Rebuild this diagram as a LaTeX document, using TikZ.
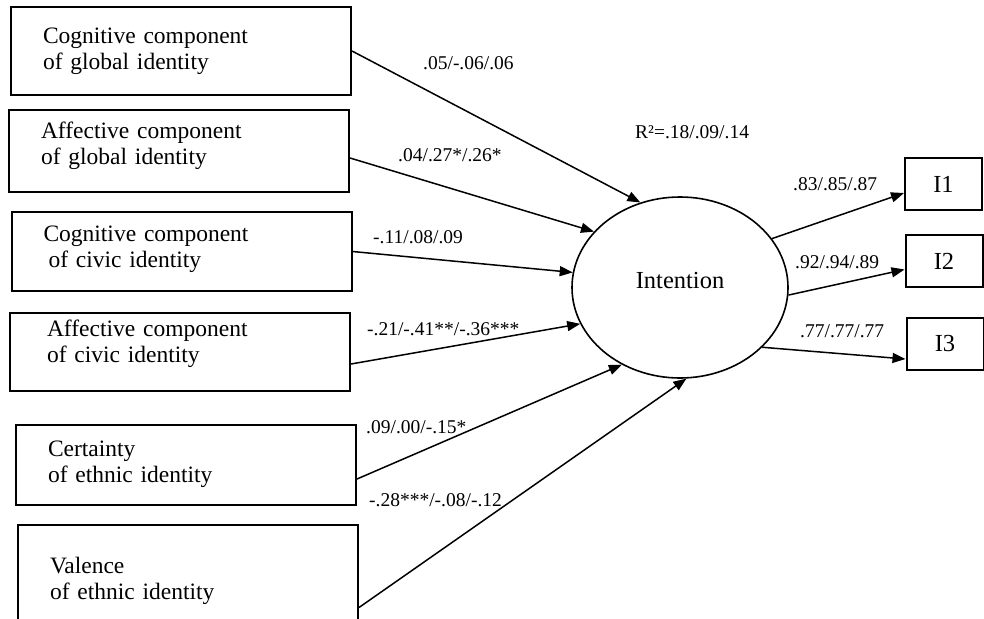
\documentclass[tikz,border=0pt]{standalone}
\usepackage{fontspec}
\setmainfont{Liberation Serif}
\usetikzlibrary{shapes.geometric,arrows.meta,positioning}

\begin{document}
\begin{tikzpicture}[
    x=1pt, y=-1pt,
    box/.style={rectangle, draw, line width=2pt, minimum width=340pt, text width=276pt, inner xsep=32pt, inner ysep=0pt, align=left, font=\fontsize{23.5}{26}\selectfont},
    ind/.style={rectangle, draw, line width=2pt, minimum width=77pt, minimum height=52pt, inner sep=0pt, font=\fontsize{24.5}{28}\selectfont},
    lat/.style={ellipse, draw, line width=1.6pt, minimum width=216pt, minimum height=181pt, inner sep=0pt, text depth=14pt, font=\fontsize{24.5}{28}\selectfont},
    coef/.style={anchor=base west, inner sep=0pt, font=\fontsize{19.5}{22}\selectfont},
    arrow/.style={-{Triangle[length=13pt,width=10pt]}, line width=1.5pt}
]
    \useasboundingbox (0,0) rectangle (984,618);

    % predictors
    \node[box, minimum height=88pt, text depth=30pt] (cg) at (181,51) {Cognitive component\\of global identity};
    \node[box, minimum height=82pt, text depth=42pt] (ag) at (179,151) {Affective component\\of global identity};
    \node[box, minimum height=79pt, text depth=35pt] (cc) at (181.5,251.5) {Cognitive component\\\hspace*{5pt}of civic identity};
    \node[box, minimum height=78pt, text depth=48pt] (ac) at (180,352) {\hspace*{5pt}Affective component\\\hspace*{5pt}of civic identity};
    \node[box, minimum height=80pt, text depth=32pt] (ce) at (186,465) {Certainty\\of ethnic identity};
    \node[box, minimum height=105pt, text depth=25pt] (ve) at (188,577.5) {Valence\\of ethnic identity};

    % latent factor and indicators
    \node[lat] (int) at (680,287.5) {Intention};
    \node[ind] (i1) at (943.5,184) {I1};
    \node[ind, below=23pt of i1.south, anchor=north, xshift=0.5pt] (i2) {I2};
    \node[ind, below=29pt of i2.south, anchor=north, xshift=1pt] (i3) {I3};

    \draw[arrow] (cg.east) -- (int.115.9);
    \draw[arrow] ([yshift=-7pt]ag.east) -- (int.147);
    \draw[arrow] (cc.east) -- (int.172.9);
    \draw[arrow] ([yshift=-12pt]ac.east) -- (int.200.4);
    \draw[arrow] ([yshift=-14pt]ce.east) -- (int.233);
    \draw[arrow] ([yshift=-30pt]ve.east) -- (int.274.2);

    \draw[arrow] (int.28) -- ([yshift=-9pt]i1.west);
    \draw[arrow] (int.356.6) -- ([yshift=-8.5pt]i2.west);
    \draw[arrow] (int.324.4) -- ([yshift=-15pt]i3.west);

    % coefficients
    \node[coef] (b1) at (423,69) {.05/-.06/.06};
    \node[coef] (b2) at (398,161) {.04/.27*/.26*};
    \node[coef] (b3) at (373,243) {-.11/.08/.09};
    \node[coef] (b4) at (367,335) {-.21/-.41**/-.36***};
    \node[coef] (b5) at (366,433) {.09/.00/-.15*};
    \node[coef] (b6) at (369,506) {-.28***/-.08/-.12};
    \node[coef] (rsq) at (635,138) {R²=.18/.09/.14};
    \node[coef] (l1) at (793,190) {.83/.85/.87};
    \node[coef] (l2) at (795,268) {.92/.94/.89};
    \node[coef] (l3) at (800,337) {.77/.77/.77};
\end{tikzpicture}
\end{document}
